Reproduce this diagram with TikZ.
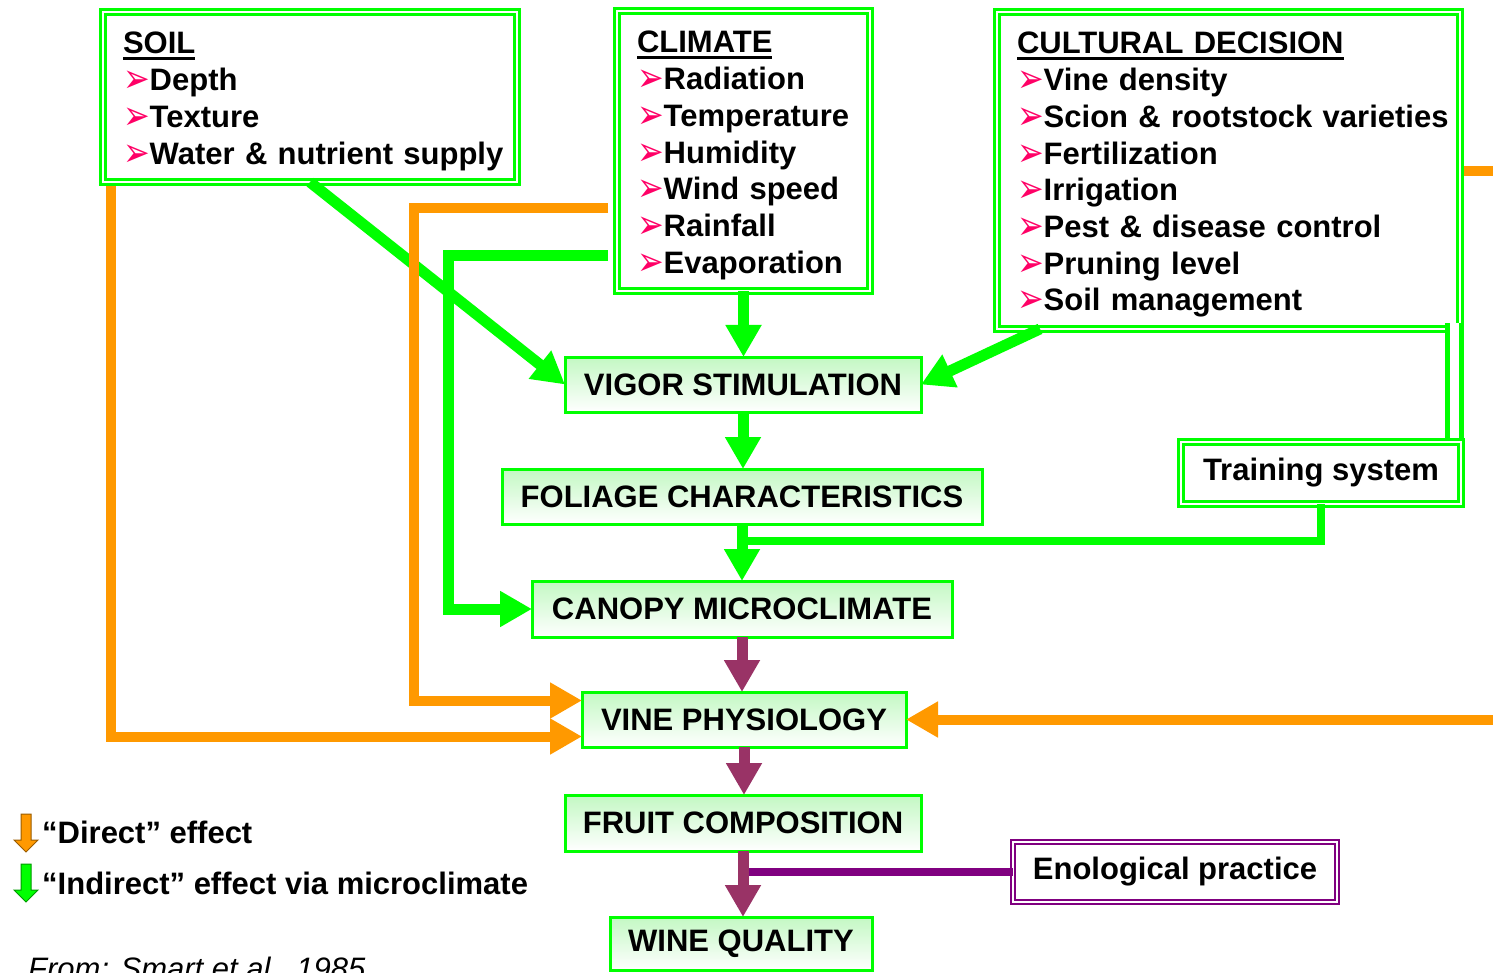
\documentclass[tikz,border=0pt]{standalone}
\usepackage{fontspec}
\setmainfont{Liberation Sans}
\newfontfamily\bulfont{DejaVu Sans}
\usetikzlibrary{arrows.meta,positioning,calc}

\definecolor{limeline}{RGB}{0,255,0}
\definecolor{directorange}{RGB}{255,153,0}
\definecolor{physmaroon}{RGB}{153,51,102}
\definecolor{enopurple}{RGB}{128,0,128}
\definecolor{bulpink}{RGB}{255,0,102}
\definecolor{boxtop}{RGB}{195,248,195}

\newcommand{\ulhead}[1]{\setbox0\hbox{#1}\rlap{\rule[-6pt]{\wd0}{3pt}}\box0}
\newcommand{\itm}[1]{\\\mbox{\raisebox{-2pt}{\scalebox{1.1}[1.4]{\bulfont\fontsize{29}{29}\selectfont\color{bulpink}➢}}#1}}
\newcommand{\firstline}{\rule{0pt}{42pt}}
\newcommand{\lastline}{\rule[-18pt]{0pt}{18pt}}

\tikzset{
  pics/legarrow/.style={code={
    \draw[fill=#1, draw=#1!60!black, line width=1pt]
      (-5,0) -- (5,0) -- (5,26) -- (12,26) -- (0,38) -- (-12,26) -- (-5,26) -- cycle;
  }}
}

\begin{document}
\begin{tikzpicture}[
    x=1pt, y=-1pt,
    listbox/.style={draw=limeline, double=white, line width=2.5pt, double distance=2.5pt,
                    fill=white, align=left, anchor=north west, inner xsep=20pt, inner ysep=0pt,
                    outer sep=0pt, font=\bfseries\fontsize{31}{36.7}\selectfont},
    sidebox/.style={draw=#1, double=white, line width=2.5pt, double distance=2.5pt,
                    fill=white, inner sep=0pt, outer sep=0pt,
                    font=\bfseries\fontsize{31}{31}\selectfont},
    flowbox/.style={draw=limeline, line width=3pt, top color=boxtop, bottom color=white,
                    inner sep=0pt, outer sep=0pt, minimum height=55pt,
                    font=\bfseries\fontsize{31}{31}\selectfont},
    indir/.style={draw=limeline, line width=11pt, -{Triangle[length=32pt,width=34pt]}},
    direct/.style={draw=directorange, line width=10pt, -{Triangle[length=32pt,width=34pt]}},
    phys/.style={draw=physmaroon, line width=11pt, -{Triangle[length=32pt,width=34pt]}},
    feed/.style={line width=8pt},
    legtext/.style={anchor=west, inner sep=0pt, font=\bfseries\fontsize{31}{31}\selectfont}
]

\path[use as bounding box, fill=white] (0,0) rectangle (1493,973);

%% Factors
\node[listbox, text width=374pt] (soil) at (103,12)
  {\firstline\ulhead{SOIL}\itm{Depth}\itm{Texture}\itm{Water \& nutrient supply}\lastline};
\node[listbox, text width=213pt] (clim) at (617,11)
  {\firstline\ulhead{CLIMATE}\itm{Radiation}\itm{Temperature}\itm{Humidity}\itm{Wind speed}\itm{Rainfall}\itm{Evaporation}\lastline};
\node[listbox, text width=423pt] (cult) at (997,12)
  {\firstline\ulhead{CULTURAL DECISION}\itm{Vine density}\itm{Scion \& rootstock varieties}\itm{Fertilization}\itm{Irrigation}\itm{Pest \& disease control}\itm{Pruning level}\itm{Soil management}\lastline};

%% Chain
\node[flowbox, minimum width=356pt] (vigor)   at (743,384.5) {VIGOR STIMULATION};
\node[flowbox, minimum width=480pt] (foliage) at (742,496.5) {FOLIAGE CHARACTERISTICS};
\node[flowbox, minimum width=420pt, minimum height=56pt] (canopy) at (742,609) {CANOPY MICROCLIMATE};
\node[flowbox, minimum width=324pt] (vine)    at (744,719.5) {VINE PHYSIOLOGY};
\node[flowbox, minimum width=356pt, minimum height=56pt] (fruit) at (743,823) {FRUIT COMPOSITION};
\node[flowbox, minimum width=262pt, minimum height=53pt] (wine) at (741,943.5) {WINE QUALITY};

%% Training system
\draw[limeline, double=white, line width=5pt, double distance=9pt]
  ($(cult.south east)+(-6,-6)$) -- ($(cult.south east)+(-6,113)$);
\node[sidebox=limeline, minimum width=280pt, minimum height=62pt] (train) at (1321,473) {Training system};
\draw[limeline, feed] (train.south) |- ($(foliage.south)+(0,17)$);

%% Indirect effects
\draw[indir] (soil.south) -- (vigor.west);
\draw[indir] (clim.south) -- (clim.south |- vigor.north);
\draw[indir] ($(cult.south west)+(43,0)$) -- (vigor.east);
\draw[indir] (vigor.south) -- (vigor.south |- foliage.north);
\draw[indir] (foliage.south) -- (foliage.south |- canopy.north);
\draw[indir] ($(clim.north west)+(-9,245)$) -- ++(-160,0) |- (canopy.west);

%% Direct effects
\coordinate (offpage) at (1540,171);
\draw[direct] ($(clim.north west)+(-9,197)$) -- ++(-194,0) |- ($(vine.west)+(0,-19)$);
\draw[direct] ($(soil.south west)+(8,4)$) |- ($(vine.west)+(0,17)$);
\draw[direct] ($(cult.north east)+(4,159)$) -- (offpage) |- (vine.east);

%% Enological practice
\node[sidebox=enopurple, line width=2pt, minimum width=324pt, minimum height=60pt] (eno) at (1175,872) {Enological practice};
\draw[enopurple, feed] (eno.west) -- (fruit.south |- eno.west);

%% Physiology chain
\draw[phys] (canopy.south) -- (canopy.south |- vine.north);
\draw[phys] (vine.south) -- (vine.south |- fruit.north);
\draw[phys] (fruit.south) -- (fruit.south |- wine.north);

%% Legend
\pic (legdir) at (26,814) {legarrow=directorange};
\pic (legind) at (26,864) {legarrow=limeline};
\node[legtext] (legdirtext) at (42,832) {“Direct” effect};
\node[legtext] (legindtext) at (42,883) {“Indirect” effect via microclimate};
\node[anchor=base west, inner sep=0pt, font=\itshape\fontsize{31}{31}\selectfont] (source) at (28,979) {From: Smart et al., 1985};

\end{tikzpicture}
\end{document}
